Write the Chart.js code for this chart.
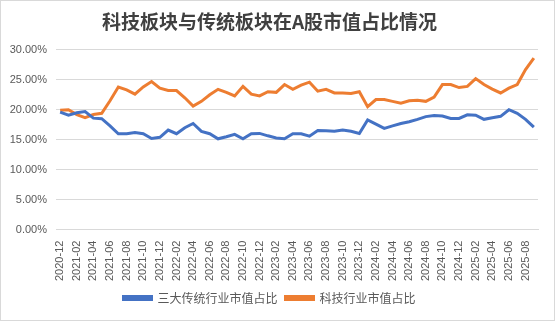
<!DOCTYPE html>
<html>
<head>
<meta charset="utf-8">
<script src="https://cdn.jsdelivr.net/npm/chart.js@4.4.1/dist/chart.umd.min.js"></script>
<style>
  body { margin: 0; background: #fff; }
  #wrap { width: 555px; height: 321px; box-sizing: border-box; border: 1px solid #d9d9d9; }
</style>
</head>
<body>
<div id="wrap"><canvas id="shareChart" width="553" height="319"></canvas></div>
<script>
// months 2020-12 .. 2025-09
const months = [
  "2020-12",
  "2021-01", "2021-02", "2021-03", "2021-04", "2021-05", "2021-06",
  "2021-07", "2021-08", "2021-09", "2021-10", "2021-11", "2021-12",
  "2022-01", "2022-02", "2022-03", "2022-04", "2022-05", "2022-06",
  "2022-07", "2022-08", "2022-09", "2022-10", "2022-11", "2022-12",
  "2023-01", "2023-02", "2023-03", "2023-04", "2023-05", "2023-06",
  "2023-07", "2023-08", "2023-09", "2023-10", "2023-11", "2023-12",
  "2024-01", "2024-02", "2024-03", "2024-04", "2024-05", "2024-06",
  "2024-07", "2024-08", "2024-09", "2024-10", "2024-11", "2024-12",
  "2025-01", "2025-02", "2025-03", "2025-04", "2025-05", "2025-06",
  "2025-07", "2025-08", "2025-09"
];

// 三大传统行业市值占比 (%)
const traditionalShare = [
  19.6, 19.1, 19.5, 19.7, 18.6, 18.5, 17.3, 16.0, 16.0, 16.2,
  16.0, 15.2, 15.4, 16.6, 16.0, 17.0, 17.7, 16.4, 16.0, 15.15,
  15.5, 15.9, 15.15, 16.0, 16.05, 15.65, 15.3, 15.15, 16.0, 16.0,
  15.6, 16.55, 16.5, 16.4, 16.6, 16.4, 16.05, 18.3, 17.6, 16.9,
  17.3, 17.7, 18.0, 18.4, 18.85, 19.05, 18.95, 18.55, 18.55, 19.15,
  19.1, 18.4, 18.65, 18.9, 20.0, 19.4, 18.4, 17.1
];

// 科技行业市值占比 (%)
const techShare = [
  19.9, 20.0, 19.2, 18.7, 19.2, 19.4, 21.5, 23.8, 23.3, 22.6,
  23.8, 24.7, 23.6, 23.2, 23.2, 22.0, 20.6, 21.4, 22.5, 23.4,
  22.9, 22.3, 23.9, 22.6, 22.3, 23.0, 22.9, 24.2, 23.4, 24.1,
  24.6, 23.1, 23.4, 22.8, 22.8, 22.7, 23.0, 20.5, 21.7, 21.7,
  21.4, 21.1, 21.5, 21.6, 21.4, 22.1, 24.2, 24.2, 23.7, 23.9,
  25.2, 24.2, 23.45, 22.8, 23.6, 24.2, 26.7, 28.6
];

const yTicks = [0, 5, 10, 15, 20, 25, 30];

const BLUE = "#4472c4";
const ORANGE = "#ed7d31";
const TEXT = "#595959";

new Chart(document.getElementById("shareChart"), {
  type: "line",
  data: {
    labels: months,
    datasets: [
      {
        label: "三大传统行业市值占比",
        data: traditionalShare,
        borderColor: BLUE,
        backgroundColor: BLUE,
        borderWidth: 3,
        pointRadius: 0,
        tension: 0,
      },
      {
        label: "科技行业市值占比",
        data: techShare,
        borderColor: ORANGE,
        backgroundColor: ORANGE,
        borderWidth: 3,
        pointRadius: 0,
        tension: 0,
      },
    ],
  },
  options: {
    responsive: false,
    animation: false,
    layout: { padding: { left: 0, right: 16, bottom: 6 } },
    plugins: {
      title: {
        display: true,
        text: "科技板块与传统板块在A股市值占比情况",
        color: "#404040",
        font: { family: "Noto Sans CJK SC", size: 19, weight: "bold" },
        padding: { top: 9, bottom: 17 },
      },
      legend: {
        position: "bottom",
        labels: {
          boxWidth: 28,
          boxHeight: 3,
          padding: 8,
          color: TEXT,
          font: { family: "Noto Sans CJK SC", size: 12 },
        },
      },
      tooltip: { enabled: false },
    },
    scales: {
      x: {
        offset: true,
        grid: { display: false },
        border: { color: "#d9d9d9", width: 1 },
        ticks: {
          autoSkip: false,
          minRotation: 90,
          maxRotation: 90,
          color: TEXT,
          font: { family: "Liberation Sans", size: 11 },
          callback: function (val, i) {
            return i % 2 === 0 ? months[i] : "";
          },
        },
      },
      y: {
        min: 0,
        max: 30,
        afterFit: function (scale) { scale.width = 55; },
        afterBuildTicks: function (scale) {
          scale.ticks = yTicks.map((v) => ({ value: v }));
        },
        grid: { color: "#d9d9d9", drawTicks: false },
        border: { display: false },
        ticks: {
          padding: 9,
          color: TEXT,
          font: { family: "Liberation Sans", size: 11 },
          callback: (v) => v.toFixed(2) + "%",
        },
      },
    },
  },
});
</script>
</body>
</html>
